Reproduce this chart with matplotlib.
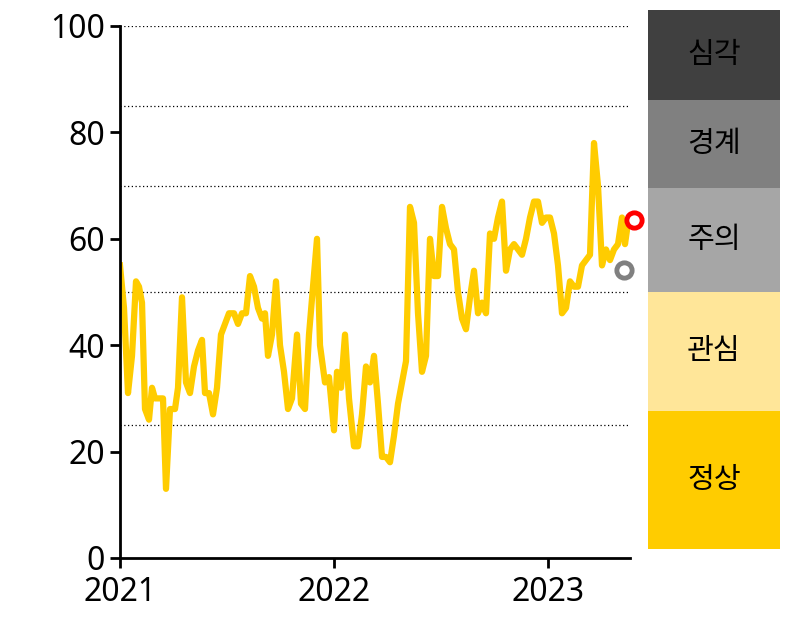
import matplotlib.pyplot as plt
from matplotlib.patches import Rectangle

plt.rcParams['font.family'] = ['Noto Sans CJK KR', 'DejaVu Sans']

# pixel-read x positions converted to decimal years, index values
xpix = [120, 124, 128, 132, 136, 139, 142, 145, 149, 152, 155, 158, 163, 166, 170, 175, 178, 182, 186, 190,
        194, 198, 202, 205, 209, 213, 217, 221, 225, 229, 234, 238, 242, 246, 250, 254, 258, 262, 265, 268,
        272, 276, 280, 284, 288, 292, 297, 301, 305, 309, 317, 320, 325, 329, 334, 337, 341, 345, 349, 354,
        358, 362, 366, 370, 374, 378, 382, 386, 390, 394, 398, 402, 406, 410, 414, 418, 422, 426, 430, 434,
        438, 442, 446, 450, 454, 458, 462, 466, 470, 474, 478, 482, 486, 490, 494, 498, 502, 506, 510, 514,
        518, 522, 526, 530, 534, 538, 542, 546, 550, 554, 558, 562, 566, 570, 574, 578, 582, 586, 590, 594,
        598, 602, 606, 610, 614, 618, 622, 625, 628]
values = [55, 47, 31, 38, 52, 51, 48, 28, 26, 32, 30, 30, 30, 13, 28, 28, 32, 49, 33, 31,
          36, 39, 41, 31, 31, 27, 32, 42, 44, 46, 46, 44, 46, 46, 53, 51, 47, 45, 46, 38,
          42, 52, 40, 35, 28, 30, 42, 29, 28, 42, 60, 40, 33, 34, 24, 35, 32, 42, 30, 21,
          21, 27, 36, 33, 38, 29, 19, 19, 18, 23, 29, 33, 37, 66, 63, 46, 35, 38, 60, 53,
          53, 66, 62, 59, 58, 50, 45, 43, 49, 54, 46, 48, 46, 61, 60, 64, 67, 54, 58, 59,
          58, 57, 60, 64, 67, 67, 63, 64, 64, 61, 55, 46, 47, 52, 51, 51, 55, 56, 57, 78,
          70, 55, 58, 56, 58, 59, 64, 59, 63]
years = [2021 + (p - 120) / 214 for p in xpix]

red_pt = (2021 + (634 - 120) / 214, 63.5)
grey_pt = (2021 + (624 - 120) / 214, 54.2)

levels = [100, 85, 70, 50, 25]
bands = [("심각", "#404040"),
         ("경계", "#808080"),
         ("주의", "#a6a6a6"),
         ("관심", "#ffe699"),
         ("정상", "#ffcc00")]

fig = plt.figure(figsize=(7.99, 6.34), dpi=100)
ax = fig.add_axes([120 / 799, 76 / 634, (630 - 120) / 799, 532 / 634])
ax.set_xlim(2021, 2021 + 510 / 214)
ax.set_ylim(0, 100)
for lv in levels:
    ax.axhline(lv, color="black", linestyle=(0, (1, 2)), linewidth=0.9, zorder=1)
ax.plot(years, values, color="#ffcc00", linewidth=4.5, zorder=2)
ax.plot(*red_pt, "o", markersize=11, markerfacecolor="white", markeredgecolor="red",
        markeredgewidth=3.5, zorder=3, clip_on=False)
ax.plot(*grey_pt, "o", markersize=11, markerfacecolor="white", markeredgecolor="#808080",
        markeredgewidth=3.5, zorder=3, clip_on=False)
for s in ["top", "right"]:
    ax.spines[s].set_visible(False)
ax.spines["left"].set_linewidth(2)
ax.spines["bottom"].set_linewidth(2)
ax.set_yticks([0, 20, 40, 60, 80, 100])
ax.set_xticks([2021, 2022, 2023])
ax.set_xticklabels(["2021", "2022", "2023"])
for lab in ax.get_xticklabels() + ax.get_yticklabels():
    lab.set_family(["Noto Sans", "DejaVu Sans"])
ax.tick_params(labelsize=23, width=2, length=7, direction="out")
ax.tick_params(axis="x", pad=6)
ax.tick_params(axis="y", pad=4)

# right-hand alert level legend
bx = fig.add_axes([648 / 799, 85 / 634, 132 / 799, 539 / 634])
bx.set_xlim(0, 1)
bx.set_ylim(-1.5, 100)
bx.axis("off")
ypix = [10, 100, 188, 292, 411, 549]
for i, (name, fc) in enumerate(bands):
    top = 100 - (ypix[i] - 10) / 539 * 101.5
    bot = 100 - (ypix[i + 1] - 10) / 539 * 101.5
    bx.add_patch(Rectangle((0, bot), 1, top - bot, facecolor=fc, edgecolor="none"))
    bx.text(0.5, (top + bot) / 2, name, ha="center", va="center", fontsize=21, color="black")

fig.savefig("out.png", dpi=100)
